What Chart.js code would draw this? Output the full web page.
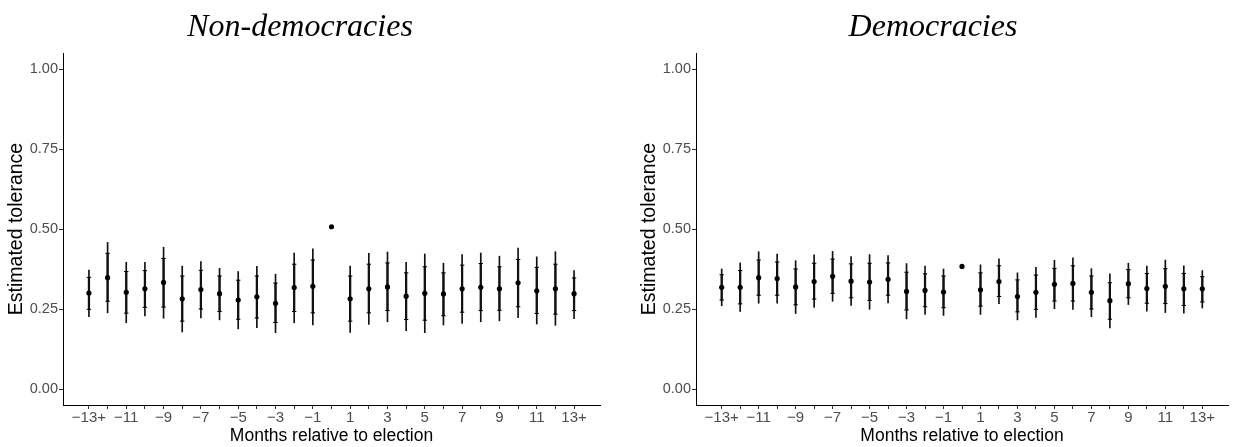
<!DOCTYPE html>
<html>
<head>
<meta charset="utf-8">
<script src="https://cdn.jsdelivr.net/npm/chart.js@4"></script>
<style>
  body { margin: 0; background: #fff; }
  .panel { position: absolute; top: 0; }
</style>
</head>
<body>
<div class="panel" style="left:0"><canvas id="left" width="616" height="447"></canvas></div>
<div class="panel" style="left:633px"><canvas id="right" width="600" height="447"></canvas></div>
<script>
// months relative to election (-13 = "-13+", 13 = "13+")
const months = [-13, -12, -11, -10, -9, -8, -7, -6, -5, -4, -3, -2, -1, 0, 1, 2, 3, 4, 5, 6, 7, 8, 9, 10, 11, 12, 13];
const monthLabels = ['\u221213+', '', '\u221211', '', '\u22129', '', '\u22127', '', '\u22125', '', '\u22123', '', '\u22121', '',
  '1', '', '3', '', '5', '', '7', '', '9', '', '11', '', '13+'];
const yTicks = [0, 0.25, 0.5, 0.75, 1];

// Non-democracies
const ndEst = [0.300, 0.348, 0.302, 0.313, 0.333, 0.282, 0.311, 0.298, 0.278, 0.288, 0.268, 0.317, 0.321, 0.507, 0.282, 0.313, 0.319, 0.290, 0.299, 0.297, 0.313, 0.318, 0.313, 0.332, 0.307, 0.313, 0.298];
const ndLo95 = [0.226, 0.238, 0.207, 0.228, 0.221, 0.178, 0.222, 0.216, 0.188, 0.192, 0.176, 0.207, 0.200, null, 0.177, 0.202, 0.210, 0.182, 0.176, 0.200, 0.205, 0.210, 0.213, 0.223, 0.203, 0.199, 0.220];
const ndHi95 = [0.372, 0.458, 0.396, 0.396, 0.443, 0.384, 0.398, 0.377, 0.367, 0.383, 0.359, 0.425, 0.438, null, 0.384, 0.424, 0.428, 0.396, 0.422, 0.393, 0.420, 0.425, 0.415, 0.440, 0.413, 0.429, 0.370];
const ndLo90 = [0.249, 0.274, 0.237, 0.255, 0.256, 0.212, 0.250, 0.242, 0.218, 0.222, 0.208, 0.242, 0.238, null, 0.212, 0.238, 0.245, 0.217, 0.215, 0.229, 0.240, 0.245, 0.246, 0.257, 0.236, 0.234, 0.245];
const ndHi90 = [0.349, 0.424, 0.367, 0.370, 0.408, 0.353, 0.371, 0.353, 0.340, 0.353, 0.331, 0.390, 0.403, null, 0.353, 0.390, 0.394, 0.363, 0.382, 0.363, 0.387, 0.392, 0.382, 0.405, 0.380, 0.390, 0.347];

// Democracies
const dEst = [0.318, 0.318, 0.348, 0.345, 0.319, 0.336, 0.352, 0.337, 0.334, 0.343, 0.305, 0.308, 0.303, 0.383, 0.310, 0.336, 0.289, 0.302, 0.327, 0.330, 0.302, 0.276, 0.329, 0.314, 0.321, 0.313, 0.313];
const dLo95 = [0.260, 0.242, 0.268, 0.268, 0.236, 0.255, 0.274, 0.261, 0.249, 0.269, 0.219, 0.233, 0.230, null, 0.233, 0.267, 0.216, 0.224, 0.251, 0.249, 0.226, 0.191, 0.264, 0.243, 0.239, 0.237, 0.253];
const dHi95 = [0.375, 0.394, 0.429, 0.422, 0.401, 0.419, 0.430, 0.414, 0.420, 0.417, 0.392, 0.384, 0.375, null, 0.388, 0.407, 0.363, 0.380, 0.402, 0.410, 0.376, 0.360, 0.393, 0.384, 0.403, 0.385, 0.370];
const dLo90 = [0.278, 0.266, 0.293, 0.293, 0.263, 0.281, 0.299, 0.285, 0.277, 0.293, 0.247, 0.257, 0.254, null, 0.259, 0.289, 0.241, 0.249, 0.275, 0.275, 0.250, 0.218, 0.285, 0.268, 0.267, 0.261, 0.272];
const dHi90 = [0.357, 0.370, 0.403, 0.397, 0.375, 0.393, 0.406, 0.391, 0.393, 0.394, 0.365, 0.360, 0.353, null, 0.363, 0.385, 0.341, 0.356, 0.377, 0.385, 0.353, 0.332, 0.373, 0.361, 0.376, 0.361, 0.351];

const sans = "'Liberation Sans', Arial, sans-serif";

function ranges(lo, hi) {
  return months.map((m, i) => ({ x: m, y: [lo[i], hi[i]] })).filter((d, i) => lo[i] !== null);
}

function caps(lo, hi) {
  const out = [];
  months.forEach((m, i) => {
    if (lo[i] === null) return;
    out.push({ x: m, y: lo[i] });
    out.push({ x: m, y: hi[i] });
  });
  return out;
}

function makePanel(id, title, est, lo95, hi95, lo90, hi90, padRight) {
  return new Chart(document.getElementById(id), {
    type: 'bar',
    data: {
      datasets: [
        { data: ranges(lo95, hi95), backgroundColor: '#111', barThickness: 1, grouped: false, order: 4 },
        { data: ranges(lo90, hi90), backgroundColor: '#111', barThickness: 1.6, grouped: false, order: 3 },
        {
          type: 'scatter', data: caps(lo90, hi90), pointStyle: 'line', pointRadius: 2.2,
          borderColor: '#000', borderWidth: 1, order: 2,
        },
        {
          type: 'scatter', data: months.map((m, i) => ({ x: m, y: est[i] })), pointStyle: 'circle',
          pointRadius: 2.6, backgroundColor: '#000', borderColor: '#000', borderWidth: 0, order: 1,
        },
      ],
    },
    options: {
      responsive: false,
      animation: false,
      events: [],
      layout: { padding: { left: 0, right: padRight, top: 0, bottom: 0 } },
      plugins: {
        legend: { display: false },
        tooltip: { enabled: false },
        title: {
          display: true,
          text: title,
          color: '#000',
          font: { family: "'Liberation Serif', 'Times New Roman', serif", style: 'italic', size: 32, weight: 'normal' },
          padding: { top: 8, bottom: 6.6 },
        },
      },
      scales: {
        x: {
          type: 'linear',
          offset: false,
          min: -14.39,
          max: 14.39,
          afterBuildTicks: (s) => { s.ticks = months.map((v) => ({ value: v })); },
          afterFit: (s) => { s.height = 42; },
          ticks: {
            autoSkip: false,
            maxRotation: 0,
            padding: 0,
            color: '#4d4d4d',
            font: { family: sans, size: 15 },
            callback: (v) => monthLabels[months.indexOf(v)],
          },
          grid: { display: true, drawOnChartArea: false, drawTicks: true, tickLength: 4, color: '#333', offset: false },
          border: { display: true, color: '#000', width: 1 },
          title: {
            display: true,
            text: 'Months relative to election',
            color: '#000',
            font: { family: sans, size: 17.5 },
            padding: { top: 0, bottom: 0 },
          },
        },
        y: {
          type: 'linear',
          min: -0.05,
          max: 1.05,
          afterBuildTicks: (s) => { s.ticks = yTicks.map((v) => ({ value: v })); },
          afterFit: (s) => { s.width = 63; },
          ticks: {
            padding: 1,
            color: '#4d4d4d',
            font: { family: sans, size: 14.5 },
            callback: (v) => v.toFixed(2),
          },
          grid: { display: true, drawOnChartArea: false, drawTicks: true, tickLength: 4, color: '#333' },
          border: { display: true, color: '#000', width: 1 },
          title: {
            display: true,
            text: 'Estimated tolerance',
            color: '#000',
            font: { family: sans, size: 19.5 },
            padding: { top: 5, bottom: 0 },
          },
        },
      },
    },
  });
}

makePanel('left', 'Non-democracies', ndEst, ndLo95, ndHi95, ndLo90, ndHi90, 16);
makePanel('right', 'Democracies', dEst, dLo95, dHi95, dLo90, dHi90, 0);
</script>
</body>
</html>
